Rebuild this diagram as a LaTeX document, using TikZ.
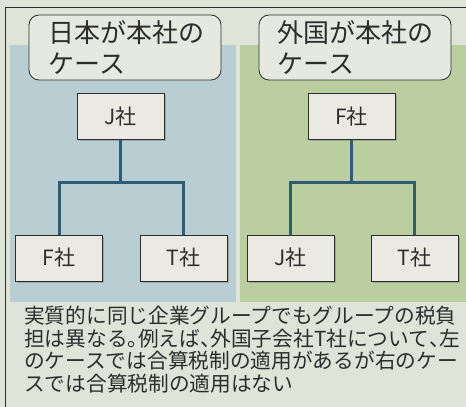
\documentclass[tikz,border=0pt]{standalone}
\usepackage{fontspec}
\newfontfamily\jp{Noto Sans CJK JP}
\newfontfamily\jph[RawFeature=+halt]{Noto Sans CJK JP}
\newcommand{\hp}[1]{{\jph #1}}
\usetikzlibrary{shadows}
\definecolor{bgc}{RGB}{222,228,216}
\definecolor{bluep}{RGB}{184,206,210}
\definecolor{greenp}{RGB}{186,206,160}
\definecolor{boxf}{RGB}{234,234,226}
\definecolor{linec}{RGB}{44,92,118}
\definecolor{ink}{RGB}{45,45,45}
\tikzset{
  co/.style={draw=ink, line width=0.8pt, fill=boxf, minimum width=87pt, minimum height=46pt,
    inner sep=0pt, font=\jp\fontsize{21}{21}\selectfont, text=ink,
    drop shadow={shadow xshift=1.5pt, shadow yshift=-1.5pt, fill=black!45, opacity=0.6}},
  ttl/.style={draw=ink, line width=0.8pt, fill=bgc!80!white, rounded corners=10pt,
    minimum width=192pt, minimum height=65pt, inner sep=0pt},
  conn/.style={draw=linec, line width=3pt},
}
\begin{document}
\begin{tikzpicture}[x=1pt,y=-1pt]
\useasboundingbox (0,0) rectangle (466,407);
\fill[bgc] (0,0) rectangle (466,407);
\draw[ink, line width=0.7pt] (5,412) -- (5,7) -- (470,7);
\fill[bluep] (10,45) rectangle (236,302);
\fill[greenp] (240,45) rectangle (466,302);
% title boxes
\node[ttl] (t1) at (125,47.5) {};
\node[ttl] (t2) at (355,47.5) {};
\node[anchor=west, align=left, font=\jp\fontsize{26}{31}\selectfont, text=ink] (t1t) at (45,47.5) {日本が本社の\\ケース};
\node[anchor=west, align=left, font=\jp\fontsize{26}{31}\selectfont, text=ink] (t2t) at (274,47.5) {外国が本社の\\ケース};
% left tree
\node[co] (lj) at (120.5,116.5) {J社};
\node[co] (lf) at (59,258) {F社};
\node[co] (lt) at (183.5,258) {T社};
\coordinate (lm) at (120.5,182);
\draw[conn] (lj.south) -- (lm);
\draw[conn] (lf.north) |- (lm) -| (lt.north);
% right tree
\node[co] (rf) at (351.5,116.5) {F社};
\node[co] (rj) at (290.5,258) {J社};
\node[co] (rt) at (414.5,258) {T社};
\coordinate (rm) at (351.5,182);
\draw[conn] (rf.south) -- (rm);
\draw[conn] (rj.north) |- (rm) -| (rt.north);
% caption
\node[anchor=north west, align=left, inner sep=0pt, font=\jp\fontsize{20.7}{22.6}\selectfont, text=ink] (cap) at (24,306)
{実質的に同じ企業グループでもグループの税負\\担は異なる\hp{。}例えば\hp{、}外国子会社T社について\hp{、}左\\のケースでは合算税制の適用があるが右のケー\\スでは合算税制の適用はない};
\end{tikzpicture}
\end{document}
